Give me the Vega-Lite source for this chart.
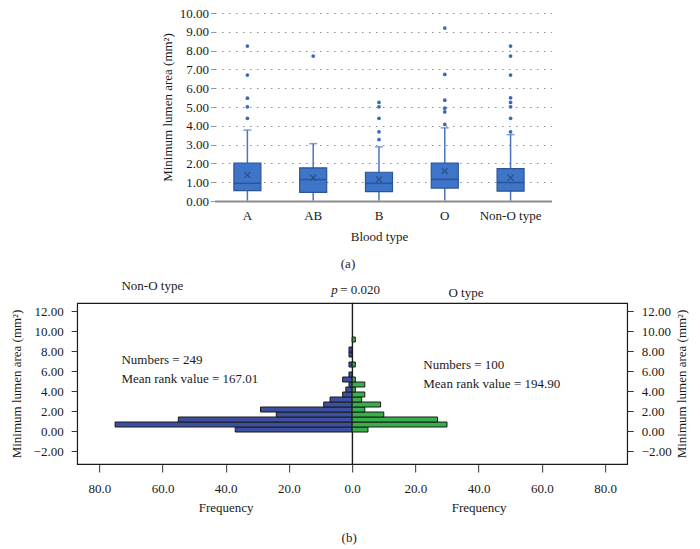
{
  "$schema": "https://vega.github.io/schema/vega-lite/v6.json",
  "padding": {"left": 9, "top": 7, "right": 5, "bottom": 5},
  "background": "white",
  "config": {
    "font": "Liberation Serif",
    "axis": {"labelFontSize": 13, "titleFontSize": 13, "titleFontWeight": "normal", "labelColor": "#1a1a1a", "titleColor": "#1a1a1a", "labelFont": "Liberation Serif", "titleFont": "Liberation Serif", "labelFlush": false, "labelOverlap": false},
    "title": {"fontSize": 13, "fontWeight": "normal", "font": "Liberation Serif", "color": "#1a1a1a"},
    "text": {"font": "Liberation Serif", "fontSize": 13, "color": "#1a1a1a"}
  },
  "datasets": {
    "boxes": [
      {"type": "A", "lo": 0.02, "q1": 0.55, "median": 0.94, "q3": 2.02, "hi": 3.77, "mean": 1.39},
      {"type": "AB", "lo": 0.02, "q1": 0.46, "median": 1.14, "q3": 1.76, "hi": 3.05, "mean": 1.24},
      {"type": "B", "lo": 0.02, "q1": 0.50, "median": 0.94, "q3": 1.53, "hi": 2.88, "mean": 1.14},
      {"type": "O", "lo": 0.02, "q1": 0.69, "median": 1.15, "q3": 2.02, "hi": 3.89, "mean": 1.60},
      {"type": "Non-O type", "lo": 0.02, "q1": 0.52, "median": 0.98, "q3": 1.72, "hi": 3.53, "mean": 1.24}
    ],
    "outliers": [
      {"type": "A", "value": 8.24}, {"type": "A", "value": 6.70}, {"type": "A", "value": 5.47}, {"type": "A", "value": 5.01}, {"type": "A", "value": 4.40},
      {"type": "AB", "value": 7.71},
      {"type": "B", "value": 5.24}, {"type": "B", "value": 5.01}, {"type": "B", "value": 4.40}, {"type": "B", "value": 3.68}, {"type": "B", "value": 3.27},
      {"type": "O", "value": 9.20}, {"type": "O", "value": 6.73}, {"type": "O", "value": 5.36}, {"type": "O", "value": 4.94}, {"type": "O", "value": 4.74}, {"type": "O", "value": 4.07},
      {"type": "Non-O type", "value": 8.24}, {"type": "Non-O type", "value": 7.71}, {"type": "Non-O type", "value": 6.70}, {"type": "Non-O type", "value": 5.49}, {"type": "Non-O type", "value": 5.24}, {"type": "Non-O type", "value": 5.01}, {"type": "Non-O type", "value": 4.40}, {"type": "Non-O type", "value": 3.68}
    ],
    "nonO": [
      {"lo": -0.07, "hi": 0.43, "count": 37},
      {"lo": 0.43, "hi": 0.93, "count": 75},
      {"lo": 0.93, "hi": 1.43, "count": 55},
      {"lo": 1.43, "hi": 1.93, "count": 24},
      {"lo": 1.93, "hi": 2.43, "count": 29},
      {"lo": 2.43, "hi": 2.93, "count": 9},
      {"lo": 2.93, "hi": 3.43, "count": 7},
      {"lo": 3.43, "hi": 3.93, "count": 3},
      {"lo": 3.93, "hi": 4.43, "count": 2},
      {"lo": 4.43, "hi": 4.93, "count": 1},
      {"lo": 4.93, "hi": 5.43, "count": 3},
      {"lo": 5.43, "hi": 5.93, "count": 1},
      {"lo": 6.43, "hi": 6.93, "count": 1},
      {"lo": 7.43, "hi": 7.93, "count": 1},
      {"lo": 7.93, "hi": 8.43, "count": 1}
    ],
    "oType": [
      {"lo": -0.07, "hi": 0.43, "count": 5},
      {"lo": 0.43, "hi": 0.93, "count": 30},
      {"lo": 0.93, "hi": 1.43, "count": 27},
      {"lo": 1.43, "hi": 1.93, "count": 10},
      {"lo": 1.93, "hi": 2.43, "count": 4},
      {"lo": 2.43, "hi": 2.93, "count": 9},
      {"lo": 2.93, "hi": 3.43, "count": 3},
      {"lo": 3.43, "hi": 3.93, "count": 4},
      {"lo": 3.93, "hi": 4.43, "count": 1},
      {"lo": 4.43, "hi": 4.93, "count": 4},
      {"lo": 4.93, "hi": 5.43, "count": 1},
      {"lo": 6.43, "hi": 6.93, "count": 1},
      {"lo": 8.93, "hi": 9.43, "count": 1}
    ]
  },
  "center": true,
  "spacing": 8,
  "vconcat": [
    {
      "width": 337,
      "height": 188,
      "view": {"stroke": null},
      "title": {"text": "(a)", "orient": "bottom", "anchor": "middle", "dx": -35, "offset": 15},
      "encoding": {
        "x": {"field": "type", "type": "nominal", "sort": ["A", "AB", "B", "O", "Non-O type"],
          "scale": {"type": "band", "paddingInner": 0, "paddingOuter": 0.061, "align": 0},
          "axis": {"title": "Blood type", "titleX": 164.5, "labelAngle": 0, "domainColor": "#8c8c8c", "domainWidth": 2, "ticks": false, "tickSize": 0, "labelPadding": 8, "titlePadding": 8}}
      },
      "layer": [
        {
          "data": {"name": "boxes"},
          "mark": {"type": "rule", "color": "#4A76C0", "strokeWidth": 1.5},
          "encoding": {
            "y": {"field": "lo", "type": "quantitative", "title": "Minimum lumen area (mm²)",
              "scale": {"domain": [0, 10], "nice": false},
              "axis": {"values": [0, 1, 2, 3, 4, 5, 6, 7, 8, 9, 10], "tickCount": 100, "format": ".2f", "domain": false, "tickSize": 4, "tickColor": "#999999", "grid": true, "gridDash": [1.5, 5.5], "gridColor": "#8c8c8c", "gridWidth": 1.2, "labelPadding": 2, "titlePadding": 5}},
            "y2": {"field": "hi"}
          }
        },
        {
          "data": {"name": "boxes"},
          "mark": {"type": "bar", "width": 27, "fill": "#3F75C8", "stroke": "#2B5597", "strokeWidth": 1.2},
          "encoding": {
            "y": {"field": "q1", "type": "quantitative", "title": "Minimum lumen area (mm²)", "scale": {"domain": [0, 10], "nice": false}},
            "y2": {"field": "q3"}
          }
        },
        {
          "data": {"name": "boxes"},
          "mark": {"type": "tick", "size": 27, "thickness": 1.5, "color": "#23477F"},
          "encoding": {
            "y": {"field": "median", "type": "quantitative", "title": "Minimum lumen area (mm²)", "scale": {"domain": [0, 10], "nice": false}}
          }
        },
        {
          "data": {"name": "boxes"},
          "mark": {"type": "tick", "size": 8, "thickness": 1.5, "color": "#4A76C0"},
          "encoding": {
            "y": {"field": "hi", "type": "quantitative", "title": "Minimum lumen area (mm²)", "scale": {"domain": [0, 10], "nice": false}}
          }
        },
        {
          "data": {"name": "boxes"},
          "mark": {"type": "point", "shape": "M-1,-1L1,1M-1,1L1,-1", "filled": false, "size": 36, "strokeWidth": 1.3, "color": "#2E508C", "opacity": 1},
          "encoding": {
            "y": {"field": "mean", "type": "quantitative", "title": "Minimum lumen area (mm²)", "scale": {"domain": [0, 10], "nice": false}}
          }
        },
        {
          "data": {"name": "outliers"},
          "mark": {"type": "circle", "size": 14, "color": "#3D6AB5", "opacity": 1},
          "encoding": {
            "y": {"field": "value", "type": "quantitative", "title": "Minimum lumen area (mm²)", "scale": {"domain": [0, 10], "nice": false}}
          }
        }
      ]
    },
    {
      "spacing": 0,
      "bounds": "flush",
      "title": {"text": "(b)", "orient": "bottom", "anchor": "middle", "offset": 17},
      "hconcat": [
        {
          "width": 275,
          "height": 161,
          "view": {"stroke": "#1a1a1a", "strokeWidth": 1.2},
          "layer": [
            {
              "data": {"name": "nonO"},
              "mark": {"type": "bar", "fill": "#3D4FA0", "stroke": "#1a1a1a", "strokeWidth": 1},
              "encoding": {
                "x": {"field": "count", "type": "quantitative",
                  "scale": {"domain": [0, 87], "reverse": true, "nice": false},
                  "axis": {"values": [20, 40, 60, 80], "tickCount": 100, "format": ".1f", "domain": false, "grid": false, "tickSize": 8, "tickColor": "#333333", "labelPadding": 10, "title": "Frequency", "titleX": 148.5, "titlePadding": 6}},
                "x2": {"datum": 0},
                "y": {"field": "lo", "type": "quantitative",
                  "scale": {"domain": [-3.27, 12.83], "nice": false, "zero": false},
                  "axis": {"values": [-2, 0, 2, 4, 6, 8, 10, 12], "tickCount": 100, "format": ".2f", "domain": false, "grid": false, "tickSize": 6, "tickColor": "#333333", "labelPadding": 8, "title": "Minimum lumen area (mm²)", "titlePadding": 10}},
                "y2": {"field": "hi"}
              }
            },
            {
              "data": {"values": [{}]},
              "mark": {"type": "text", "text": ["Numbers = 249", "Mean rank value = 167.01"], "lineHeight": 19, "align": "left", "baseline": "middle"},
              "encoding": {"x": {"datum": 73}, "y": {"datum": 7.13}}
            },
            {
              "data": {"values": [{}]},
              "mark": {"type": "text", "text": "Non-O type", "align": "left", "baseline": "middle"},
              "encoding": {"x": {"datum": 73}, "y": {"datum": 14.5}}
            }
          ]
        },
        {
          "width": 275,
          "height": 161,
          "view": {"stroke": "#1a1a1a", "strokeWidth": 1.2},
          "layer": [
            {
              "data": {"name": "oType"},
              "mark": {"type": "bar", "fill": "#36B04A", "stroke": "#1a1a1a", "strokeWidth": 1},
              "encoding": {
                "x": {"field": "count", "type": "quantitative",
                  "scale": {"domain": [0, 87], "nice": false},
                  "axis": {"values": [0, 20, 40, 60, 80], "tickCount": 100, "format": ".1f", "domain": false, "grid": false, "tickSize": 8, "tickColor": "#333333", "labelPadding": 10, "title": "Frequency", "titleX": 126.5, "titlePadding": 6}},
                "x2": {"datum": 0},
                "y": {"field": "lo", "type": "quantitative",
                  "scale": {"domain": [-3.27, 12.83], "nice": false, "zero": false},
                  "axis": {"orient": "right", "values": [-2, 0, 2, 4, 6, 8, 10, 12], "tickCount": 100, "format": ".2f", "domain": false, "grid": false, "tickSize": 6, "tickColor": "#333333", "labelPadding": 8, "title": "Minimum lumen area (mm²)", "titlePadding": 4, "titleAngle": -90, "titleBaseline": "top"}},
                "y2": {"field": "hi"}
              }
            },
            {
              "data": {"values": [{}]},
              "mark": {"type": "text", "text": ["Numbers = 100", "Mean rank value = 194.90"], "lineHeight": 19, "align": "left", "baseline": "middle"},
              "encoding": {"x": {"datum": 22.5}, "y": {"datum": 6.63}}
            },
            {
              "data": {"values": [{}]},
              "mark": {"type": "text", "text": "O type", "align": "center", "baseline": "middle"},
              "encoding": {"x": {"datum": 36}, "y": {"datum": 13.8}}
            },
            {
              "data": {"values": [{}]},
              "mark": {"type": "text", "text": "p", "fontStyle": "italic", "align": "left", "baseline": "middle"},
              "encoding": {"x": {"datum": -6.6}, "y": {"datum": 14.13}}
            },
            {
              "data": {"values": [{}]},
              "mark": {"type": "text", "text": "= 0.020", "align": "left", "baseline": "middle"},
              "encoding": {"x": {"datum": -3.8}, "y": {"datum": 14.13}}
            }
          ]
        }
      ]
    }
  ]
}
